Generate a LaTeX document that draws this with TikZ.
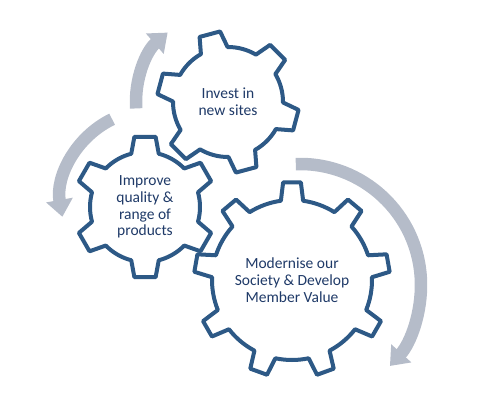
\documentclass[tikz,border=0pt]{standalone}
\usepackage{fontspec}
\setmainfont{Carlito}
\usepackage{tikz}
\usetikzlibrary{arrows.meta, backgrounds, shadows}
\definecolor{gearblue}{HTML}{2D5986}
\definecolor{textblue}{HTML}{1F3A68}
\definecolor{arrowgrey}{HTML}{B5BCC9}
% gear outline round a node: node, teeth, first tooth, inner r, outer r, base half-angle, tip half-angle
\newcommand{\gearoutline}[7]{%
  \pgfmathsetmacro{\gstep}{360/#2}%
  \pgfmathtruncatemacro{\glast}{#2-1}%
  \draw[gearline] ([shift={(#3-#6:#4)}]#1.center)
    \foreach \k in {0,...,\glast}{%
      -- ([shift={(#3+\k*\gstep-#7:#5)}]#1.center)
      -- ([shift={(#3+\k*\gstep+#7:#5)}]#1.center)
      -- ([shift={(#3+\k*\gstep+#6:#4)}]#1.center)
      arc[start angle=#3+\k*\gstep+#6, end angle=#3+\k*\gstep+\gstep-#6, radius=#4]
    } -- cycle;}

\begin{document}
\begin{tikzpicture}[x=1pt, y=1pt,
    gearline/.style={draw=gearblue, line width=4pt, fill=white, line join=round,
                     drop shadow={opacity=0.25, shadow xshift=1.5pt, shadow yshift=-1.5pt}},
    gtext/.style={align=center, text=textblue, font=\fontsize{15.5}{16.8}\selectfont},
    cycarrow/.style={draw=arrowgrey, line width=12.5pt, -{Triangle[width=26pt, length=17pt]}},
  ]
  \useasboundingbox (0,0) rectangle (487,400);
  \node[gtext] (invest)  at (228,298) {Invest in\\new sites};
  \node[gtext] (improve) at (145,193) {Improve\\quality \&\\range of\\products};
  \node[gtext] (modern)  at (292,120) {Modernise our\\Society \& Develop\\Member Value};
  \begin{scope}[on background layer]
    % turning arrows
    \draw[cycarrow] ([shift={(184:92)}]invest.center) arc[start angle=184, end angle=131, radius=92];
    \draw[cycarrow] ([shift={(7,6)}, shift={(116:91)}]improve.center) arc[start angle=116, end angle=190, radius=91];
    \draw[cycarrow] ([shift={(8,-5)}, shift={(92:121)}]modern.center) arc[start angle=92, end angle=-42, radius=121];
    % gears
    \gearoutline{invest}{6}{105}{55}{71}{14.5}{8.6}
    \gearoutline{improve}{6}{90}{55}{71}{14.5}{8.6}
    \gearoutline{modern}{9}{90}{80}{98}{8}{5.2}
  \end{scope}
\end{tikzpicture}
\end{document}
